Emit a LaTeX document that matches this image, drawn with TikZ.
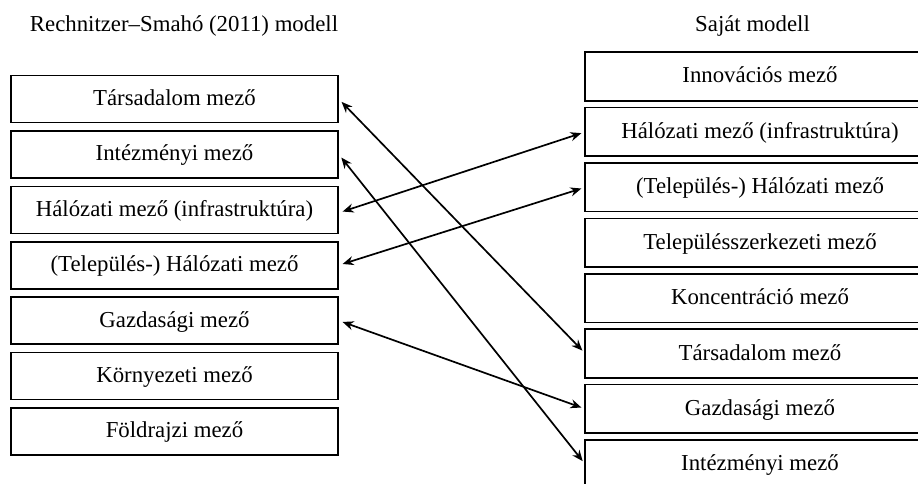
\documentclass[tikz,border=0pt]{standalone}
\usepackage{fontspec}
\setmainfont{Liberation Serif}
\usetikzlibrary{arrows.meta}
\begin{document}
\begin{tikzpicture}[x=1pt,y=-1pt,
  fbox/.style={line width=1.6pt, minimum height=47pt, inner sep=0pt,
    text height=16pt, text depth=3pt, font=\fontsize{22.8}{27}\selectfont},
  lbox/.style={fbox, draw=black, minimum width=327pt},
  rbox/.style={fbox, minimum width=348pt},
  rframe/.style={draw=black, line width=1.6pt},
  ttl/.style={anchor=base, inner sep=0pt, font=\fontsize{22.8}{27}\selectfont},
  link/.style={line width=1.7pt, {Stealth[length=11pt,width=9pt]}-{Stealth[length=11pt,width=9pt]}, shorten <=4pt, shorten >=4pt}]
\useasboundingbox (0,0) rectangle (918,484);
\clip (0,0) rectangle (918,484);
\node[ttl] (t1) at (184,32) {Rechnitzer–Smahó (2011) modell};
\node[ttl] (t2) at (752.5,32) {Saját modell};
% left column
\node[lbox] (L1) at (174.5,99) {Társadalom mező};
\node[lbox] (L2) at (174.5,154.4) {Intézményi mező};
\node[lbox] (L3) at (174.5,209.8) {Hálózati mező (infrastruktúra)};
\node[lbox] (L4) at (174.5,265.2) {(Település-) Hálózati mező};
\node[lbox] (L5) at (174.5,320.6) {Gazdasági mező};
\node[lbox] (L6) at (174.5,376) {Környezeti mező};
\node[lbox] (L7) at (174.5,431.4) {Földrajzi mező};
% right column (boxes run past the right edge)
\node[rbox] (R1) at (760,76.5) {Innovációs mező};
\node[rbox] (R2) at (760,131.9) {Hálózati mező (infrastruktúra)};
\node[rbox] (R3) at (760,187.3) {(Település-) Hálózati mező};
\node[rbox] (R4) at (760,242.7) {Településszerkezeti mező};
\node[rbox] (R5) at (760,298.1) {Koncentráció mező};
\node[rbox] (R6) at (760,353.5) {Társadalom mező};
\node[rbox] (R7) at (760,408.9) {Gazdasági mező};
\node[rbox] (R8) at (760,464.3) {Intézményi mező};
\foreach \r in {R1,R2,R3,R4,R5,R6,R7,R8}{
  \draw[rframe] ([xshift=20pt]\r.north east) -- (\r.north west) -- (\r.south west) -- ([xshift=20pt]\r.south east);
}
% links
\draw[link] (L1.east) -- (R6.west);
\draw[link] (L2.east) -- (R8.west);
\draw[link] ([yshift=-3pt]L3.east) -- (R2.west);
\draw[link] (L4.east) -- (R3.west);
\draw[link] (L5.east) -- (R7.west);
\end{tikzpicture}
\end{document}
